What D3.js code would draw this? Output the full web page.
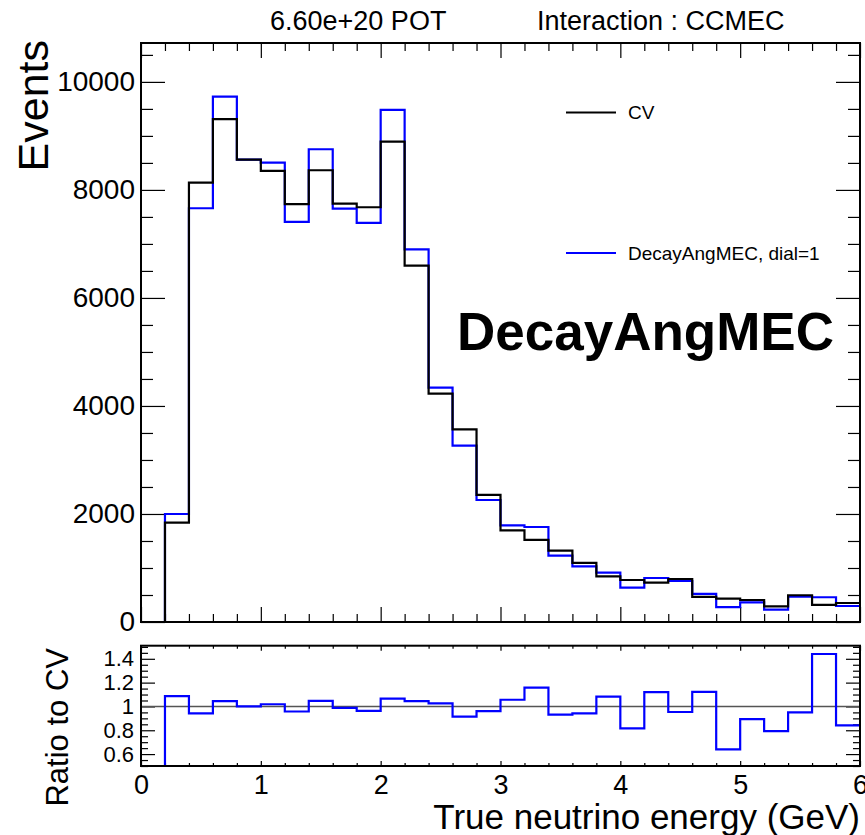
<!DOCTYPE html>
<html>
<head>
<meta charset="utf-8">
<script src="https://cdn.jsdelivr.net/npm/d3@7"></script>
<style>
  html, body { margin: 0; padding: 0; background: #fff; }
  svg { display: block; font-family: "Liberation Sans", Arial, Helvetica, sans-serif; }
</style>
</head>
<body>
<svg id="chart" width="865" height="835"></svg>
<script>
// Bin edges of true neutrino energy (GeV)
const binEdges = [0.0, 0.2, 0.4, 0.6, 0.8, 1.0, 1.2, 1.4, 1.6, 1.8, 2.0, 2.2, 2.4, 2.6, 2.8, 3.0,
                  3.2, 3.4, 3.6, 3.8, 4.0, 4.2, 4.4, 4.6, 4.8, 5.0, 5.2, 5.4, 5.6, 5.8, 6.0];

// Central-value prediction, events per bin
const cvEvents = [0, 1840, 8135, 9309, 8562, 8352, 7735, 8364, 7747, 7679,
                  8895, 6600, 4230, 3568, 2352, 1695, 1519, 1321, 1093, 845,
                  778, 728, 796, 465, 432, 407, 290, 495, 318, 352];

// DecayAngMEC variation at dial = 1, events per bin
const dialEvents = [0, 2000, 7660, 9728, 8562, 8506, 7407, 8753, 7654, 7389,
                    9481, 6900, 4340, 3265, 2259, 1790, 1759, 1230, 1030, 915,
                    635, 815, 759, 522, 276, 364, 230, 470, 458, 296];

// Axis tick values
const eventTicks = [0, 2000, 4000, 6000, 8000, 10000];
const eventMinorTicks = [500, 1000, 1500, 2500, 3000, 3500, 4500, 5000, 5500, 6500, 7000, 7500,
                         8500, 9000, 9500, 10500];
const energyTicks = [0, 1, 2, 3, 4, 5, 6];
const ratioTicks = [0.6, 0.8, 1.0, 1.2, 1.4];
const ratioTickLabels = ["0.6", "0.8", "1", "1.2", "1.4"];
const ratioMinorTicks = [0.5, 0.55, 0.65, 0.7, 0.75, 0.85, 0.9, 0.95, 1.05, 1.1, 1.15, 1.25, 1.3, 1.35, 1.45, 1.5];

const labelPOT = "6.60e+20 POT";
const labelInteraction = "Interaction : CCMEC";
const legendEntries = [
  { name: "CV", color: "#000000" },
  { name: "DecayAngMEC, dial=1", color: "#0000ff" }
];
const bigLabel = "DecayAngMEC";

const svg = d3.select("#chart");

// Layout
const L = 141, R = 860;
const upT = 43, upB = 622;
const ratT = 645.7, ratB = 766;

const x = d3.scaleLinear().domain([0, 6]).range([L, R]);
const y = d3.scaleLinear().domain([0, 10720]).range([upB, upT]);
const yr = d3.scaleLinear().domain([0.5, 1.51]).range([ratB, ratT]);

const ratio = dialEvents.map((v, i) => cvEvents[i] > 0 ? v / cvEvents[i] : 0);

// Step outline of a histogram
function stepPath(values, ys, lo, hi) {
  const pts = [];
  values.forEach((v, i) => {
    const c = Math.max(lo, Math.min(hi, v));
    pts.push([x(binEdges[i]), ys(c)]);
    pts.push([x(binEdges[i + 1]), ys(c)]);
  });
  return d3.line()(pts);
}

function styleTicks(a) {
  a.select(".domain").remove();
  a.selectAll("line").attr("stroke", "#000").attr("stroke-width", 1.2);
}

function drawAxes(g, ys, opts) {
  // left major with labels
  g.append("g").attr("transform", `translate(${L},0)`)
    .call(d3.axisLeft(ys).tickValues(opts.yMajor).tickSize(-opts.yMajorLen).tickPadding(opts.yPad)
      .tickFormat((d, i) => opts.yLabels ? opts.yLabels[i] : d))
    .call(styleTicks)
    .call(a => a.selectAll("text").attr("font-size", opts.yFont).attr("fill", "#000")
      .attr("font-family", "Liberation Sans, Arial, sans-serif"));
  // left minor
  g.append("g").attr("transform", `translate(${L},0)`)
    .call(d3.axisLeft(ys).tickValues(opts.yMinor).tickSize(-opts.yMinorLen).tickFormat(""))
    .call(styleTicks);
  // right major + minor
  g.append("g").attr("transform", `translate(${R},0)`)
    .call(d3.axisRight(ys).tickValues(opts.yMajor).tickSize(-opts.yMajorLen).tickFormat(""))
    .call(styleTicks);
  g.append("g").attr("transform", `translate(${R},0)`)
    .call(d3.axisRight(ys).tickValues(opts.yMinor).tickSize(-opts.yMinorLen).tickFormat(""))
    .call(styleTicks);

  const [b, t] = ys.range();
  const minorX = binEdges.filter(e => Math.abs(e - Math.round(e)) > 1e-6);
  // bottom
  g.append("g").attr("transform", `translate(0,${b})`)
    .call(d3.axisBottom(x).tickValues(energyTicks).tickSize(-opts.xMajorLen)
      .tickPadding(opts.xPad).tickFormat(opts.xLabels ? d3.format("d") : ""))
    .call(styleTicks)
    .call(a => a.selectAll("text").attr("font-size", opts.xFont).attr("fill", "#000")
      .attr("font-family", "Liberation Sans, Arial, sans-serif"));
  g.append("g").attr("transform", `translate(0,${b})`)
    .call(d3.axisBottom(x).tickValues(minorX).tickSize(-opts.xMinorLen).tickFormat(""))
    .call(styleTicks);
  // top
  g.append("g").attr("transform", `translate(0,${t})`)
    .call(d3.axisTop(x).tickValues(energyTicks).tickSize(-opts.xMajorLen).tickFormat(""))
    .call(styleTicks);
  g.append("g").attr("transform", `translate(0,${t})`)
    .call(d3.axisTop(x).tickValues(minorX).tickSize(-opts.xMinorLen).tickFormat(""))
    .call(styleTicks);
}

// ---------- upper panel ----------
const upper = svg.append("g");
drawAxes(upper, y, {
  yMajor: eventTicks, yMinor: eventMinorTicks, yMajorLen: 24, yMinorLen: 12, yPad: 6, yFont: "28px",
  xMajorLen: 15, xMinorLen: 8, xPad: 6, xFont: "27px", xLabels: false
});

upper.append("path")
  .attr("d", stepPath(dialEvents, y, 0, 10720))
  .attr("fill", "none").attr("stroke", "#0000ff").attr("stroke-width", 2.2);
upper.append("path")
  .attr("d", stepPath(cvEvents, y, 0, 10720))
  .attr("fill", "none").attr("stroke", "#000").attr("stroke-width", 2.2);

upper.append("rect")
  .attr("x", L).attr("y", upT).attr("width", R - L).attr("height", upB - upT)
  .attr("fill", "none").attr("stroke", "#000").attr("stroke-width", 2);

// legend
const leg = upper.append("g");
legendEntries.forEach((e, i) => {
  const ly = 112.5 + i * 140.5;
  leg.append("line").attr("x1", 566).attr("x2", 616).attr("y1", ly).attr("y2", ly)
    .attr("stroke", e.color).attr("stroke-width", 2.2);
  leg.append("text").attr("x", 628).attr("y", ly).attr("dy", "0.35em")
    .attr("font-size", "19px").attr("fill", "#000").text(e.name);
});

upper.append("text").attr("x", 457).attr("y", 350)
  .attr("font-size", "53px").attr("font-weight", "bold").attr("fill", "#000").text(bigLabel);

svg.append("text").attr("x", 270).attr("y", 30).attr("font-size", "27px").attr("fill", "#000").text(labelPOT);
svg.append("text").attr("x", 537).attr("y", 30).attr("font-size", "27px").attr("fill", "#000").text(labelInteraction);

svg.append("text").attr("transform", "translate(48,40) rotate(-90)")
  .attr("text-anchor", "end").attr("font-size", "43px").attr("fill", "#000").text("Events");

// ---------- ratio panel ----------
const lower = svg.append("g");
drawAxes(lower, yr, {
  yMajor: ratioTicks, yMinor: ratioMinorTicks, yMajorLen: 14, yMinorLen: 7, yPad: 7, yFont: "22px",
  yLabels: ratioTickLabels,
  xMajorLen: 5, xMinorLen: 3, xPad: 9, xFont: "27px", xLabels: true
});

lower.append("line").attr("x1", L).attr("x2", R).attr("y1", yr(1)).attr("y2", yr(1))
  .attr("stroke", "#555").attr("stroke-width", 1.5);

lower.append("path")
  .attr("d", stepPath(ratio, yr, 0.5, 1.51))
  .attr("fill", "none").attr("stroke", "#0000ff").attr("stroke-width", 2.2);

lower.append("rect")
  .attr("x", L).attr("y", ratT).attr("width", R - L).attr("height", ratB - ratT)
  .attr("fill", "none").attr("stroke", "#000").attr("stroke-width", 2);

svg.append("text").attr("transform", "translate(68,648) rotate(-90)")
  .attr("text-anchor", "end").attr("font-size", "31px").attr("fill", "#000").text("Ratio to CV");

svg.append("text").attr("x", 860).attr("y", 829).attr("text-anchor", "end")
  .attr("font-size", "35px").attr("fill", "#000").text("True neutrino energy (GeV)");
</script>
</body>
</html>
